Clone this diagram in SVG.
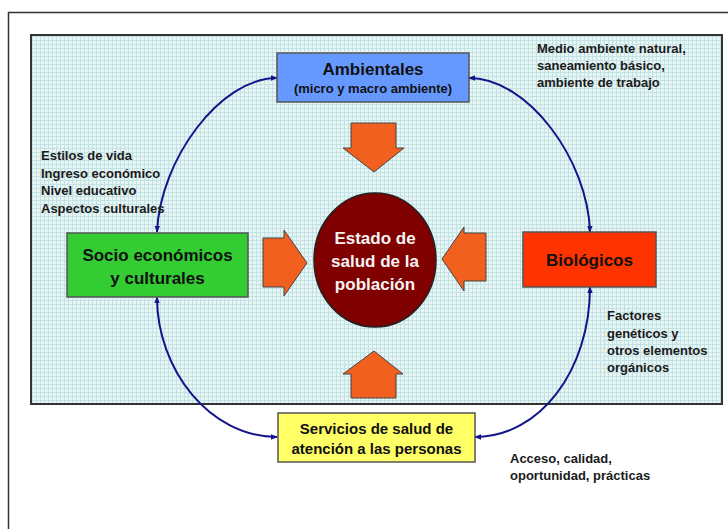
<svg xmlns="http://www.w3.org/2000/svg" width="728" height="529" viewBox="0 0 728 529">
<defs>
<pattern id="grid" width="4" height="4" patternUnits="userSpaceOnUse">
<rect width="4" height="4" fill="#e8f5f5"/>
<path d="M0 0.5H4M0.5 0V4" stroke="#c3e2e4" stroke-width="1"/>
</pattern>
<marker id="ah" viewBox="0 0 10 10" refX="9" refY="5" markerWidth="7" markerHeight="7" orient="auto-start-reverse" markerUnits="userSpaceOnUse">
<path d="M0 1L10 5L0 9z" fill="#14148a"/>
</marker>
<style>
.box{stroke:#555;stroke-width:1.5}
.bt{font-family:"Liberation Sans",Arial,sans-serif;font-weight:bold;fill:#111;text-anchor:middle}
.ann{font-family:"Liberation Sans",Arial,sans-serif;font-weight:bold;font-size:13px;fill:#1a1a1a}
.blk{fill:#f2601f;stroke:#444;stroke-width:1}
.con{fill:none;stroke:#14148a;stroke-width:2;marker-start:url(#ah);marker-end:url(#ah)}
</style>
</defs>
<rect x="0" y="0" width="728" height="529" fill="#ffffff"/>
<rect x="8.5" y="12.5" width="730" height="530" fill="#ffffff" stroke="#333" stroke-width="1.5"/>
<rect x="31" y="35" width="691" height="369" fill="url(#grid)" stroke="#333" stroke-width="2"/>

<g id="block-arrows">
<path class="blk" d="M351 123H396V148H404L374 172L343 148H351Z"/>
<path class="blk" d="M351 398H396V374H403L374 351L343 374H351Z"/>
<path class="blk" d="M263 238H284V230L307 263L284 296V287H263Z"/>
<path class="blk" d="M486 233H464V227L442 259L464 291V281H486Z"/>
</g>

<g id="connectors">
<path class="con" d="M157 232C160 160 220 78 277 78"/>
<path class="con" d="M590 232C588 160 528 78 469 78"/>
<path class="con" d="M157 297C157 370 210 437 277 437"/>
<path class="con" d="M590 287C590 370 540 437 475 437"/>
</g>

<g id="estado">
<ellipse cx="375" cy="260" rx="61" ry="67" fill="#800000" stroke="#222" stroke-width="1.5"/>
<text class="bt" font-size="17" fill="#f4f4f4" style="fill:#f4f4f4"><tspan x="375" y="244">Estado de</tspan><tspan x="375" y="267">salud de la</tspan><tspan x="375" y="290">población</tspan></text>
</g>

<g id="ambientales">
<rect class="box" x="277" y="53" width="192" height="49" fill="#6699ff"/>
<text class="bt" font-size="17" x="373" y="75">Ambientales</text>
<text class="bt" font-size="13" x="373" y="93">(micro y macro ambiente)</text>
</g>

<g id="socio">
<rect class="box" x="67" y="233" width="181" height="64" fill="#33cc33"/>
<text class="bt" font-size="17"><tspan x="157.5" y="261">Socio económicos</tspan><tspan x="157.5" y="284">y culturales</tspan></text>
</g>

<g id="biologicos">
<rect class="box" x="523" y="232" width="133" height="55" fill="#ff3300"/>
<text class="bt" font-size="17" x="589.5" y="266">Biológicos</text>
</g>

<g id="servicios">
<rect class="box" x="278" y="413" width="197" height="49" fill="#ffff66"/>
<text class="bt" font-size="15"><tspan x="376.5" y="434">Servicios de salud de</tspan><tspan x="376.5" y="454">atención a las personas</tspan></text>
</g>

<g id="annotations">
<text class="ann"><tspan x="41" y="160">Estilos de vida</tspan><tspan x="41" y="178">Ingreso económico</tspan><tspan x="41" y="195">Nivel educativo</tspan><tspan x="41" y="213">Aspectos culturales</tspan></text>
<text class="ann"><tspan x="537" y="53">Medio ambiente natural,</tspan><tspan x="537" y="70">saneamiento básico,</tspan><tspan x="537" y="87">ambiente de trabajo</tspan></text>
<text class="ann"><tspan x="607" y="320">Factores</tspan><tspan x="607" y="338">genéticos y</tspan><tspan x="607" y="355">otros elementos</tspan><tspan x="607" y="372">orgánicos</tspan></text>
<text class="ann"><tspan x="510" y="463">Acceso, calidad,</tspan><tspan x="510" y="480">oportunidad, prácticas</tspan></text>
</g>
</svg>
